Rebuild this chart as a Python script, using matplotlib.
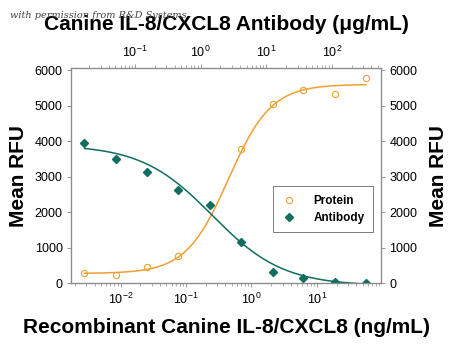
import numpy as np
import matplotlib
matplotlib.use("Agg")
from matplotlib import pyplot as plt

# data (bottom axis = recombinant protein, ng/mL)
conc = [0.0028, 0.0085, 0.025, 0.076, 0.23, 0.69, 2.1, 6.2, 19, 56]
antibody_rfu = [3960, 3490, 3130, 2630, 2200, 1160, 320, 130, 20, 10]
protein_conc = [0.0028, 0.0085, 0.025, 0.076, 0.69, 2.1, 6.2, 19, 56]
protein_rfu = [290, 225, 450, 770, 3790, 5050, 5440, 5330, 5790]

# 4-parameter logistic fits (value at low conc, value at high conc, log10 EC50, hill)
protein_fit = (270, 5600, -0.35, 1.33)
antibody_fit = (3900, -80, -0.60, 0.80)

y_ticks = [0, 1000, 2000, 3000, 4000, 5000, 6000]

orange = "#F0A032"
green = "#0F6E5F"
gray = "#8a8a8a"

plt.rcParams["mathtext.fontset"] = "custom"
plt.rcParams["mathtext.rm"] = "Liberation Sans"
plt.rcParams["mathtext.it"] = "Liberation Sans:italic"
plt.rcParams["mathtext.bf"] = "Liberation Sans:bold"


def logistic(x, params):
    low, high, log_ec50, hill = params
    return low + (high - low) / (1 + (10 ** log_ec50 / x) ** hill)


tick_font = {"family": ["Liberation Sans", "DejaVu Sans"], "size": 9}
label_font = {"family": ["Liberation Sans", "DejaVu Sans"], "size": 15, "weight": "bold"}

fig = plt.figure(figsize=(4.5, 3.49), dpi=100)
ax = fig.add_axes([0.158, 0.189, 0.689, 0.615])

xs = np.logspace(np.log10(conc[0]), np.log10(conc[-1]), 200)
ax.plot(xs, logistic(xs, protein_fit), color=orange, lw=1.1)
ax.plot(xs, logistic(xs, antibody_fit), color=green, lw=1.1)
ax.plot(protein_conc, protein_rfu, "o", ms=4.5, mfc="none", mec=orange, mew=0.8,
        ls="none", label="Protein")
ax.plot(conc, antibody_rfu, "D", ms=4.2, color=green, ls="none", label="Antibody")

ax.set_xscale("log")
ax.set_xlim(10 ** -2.757, 10 ** 1.983)
ax.set_ylim(0, 6050)
ax.set_yticks(y_ticks)
ax.set_yticklabels([str(v) for v in y_ticks], fontdict=tick_font)
ax.set_xticks([1e-2, 1e-1, 1e0, 1e1])
ax.set_xticklabels([r"$10^{-2}$", r"$10^{-1}$", r"$10^{0}$", r"$10^{1}$"], fontdict=tick_font)

# top axis: antibody concentration (ug/mL)
top = ax.twiny()
top.set_xscale("log")
top.set_xlim(10 ** -1.977, 10 ** 2.753)
top.set_xticks([1e-1, 1e0, 1e1, 1e2])
top.set_xticklabels([r"$10^{-1}$", r"$10^{0}$", r"$10^{1}$", r"$10^{2}$"], fontdict=tick_font)

# right axis
right = ax.twinx()
right.set_ylim(ax.get_ylim())
right.set_yticks(y_ticks)
right.set_yticklabels([str(v) for v in y_ticks], fontdict=tick_font)

for a in (ax, top, right):
    for s in a.spines.values():
        s.set_color(gray)
        s.set_linewidth(0.8)
    a.tick_params(which="major", length=3, width=0.6, color=gray, pad=3)
    a.tick_params(which="minor", length=2, width=0.5, color=gray)

ax.set_ylabel("Mean RFU", fontdict=label_font, labelpad=5)
right.set_ylabel("Mean RFU", fontdict=label_font, labelpad=8)
ax.set_xlabel("Recombinant Canine IL-8/CXCL8 (ng/mL)", fontdict=label_font, labelpad=8)
top.set_xlabel("Canine IL-8/CXCL8 Antibody (\u03bcg/mL)", fontdict=label_font, labelpad=11)

leg = ax.legend(loc="upper left", bbox_to_anchor=(0.652, 0.45), frameon=True,
                fancybox=False, edgecolor="#666666", framealpha=1,
                prop={"family": ["Liberation Sans", "DejaVu Sans"], "size": 8.5, "weight": "bold"},
                handletextpad=1.5, borderpad=0.7, labelspacing=0.45, handlelength=1.2,
                borderaxespad=0)
leg.get_frame().set_linewidth(0.6)

fig.text(0.022, 0.957, "with permission from R&D Systems", fontsize=7, style="italic",
         family=["DejaVu Serif"], color="#444444", va="center")

fig.savefig("out.png", dpi=100)
